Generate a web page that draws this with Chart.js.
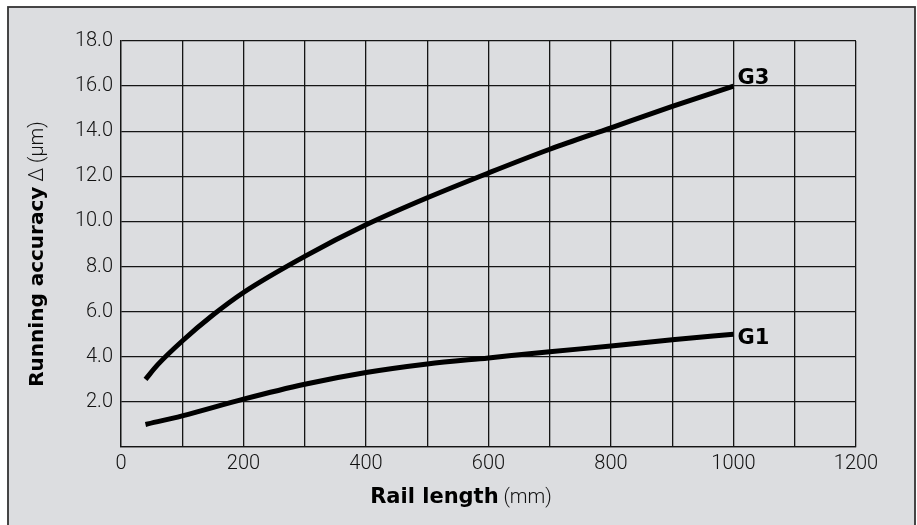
<!DOCTYPE html>
<html>
<head>
<meta charset="utf-8">
<script src="https://cdn.jsdelivr.net/npm/chart.js@4"></script>
<style>
  html, body { margin: 0; padding: 0; background: #ffffff; }
  #wrap { width: 917px; height: 525px; position: relative; }
</style>
</head>
<body>
<div id="wrap"><canvas id="c" width="917" height="525"></canvas></div>
<script>
// ---- data ----
const xTickValues = [0, 200, 400, 600, 800, 1000, 1200];
const yTickLabels = ['2.0', '4.0', '6.0', '8.0', '10.0', '12.0', '14.0', '16.0', '18.0'];

const g3Lengths = [40, 60, 100, 150, 200, 300, 400, 500, 600, 700, 800, 900, 1000];
const g3Values  = [3.0, 3.65, 4.7, 5.85, 6.85, 8.45, 9.85, 11.05, 12.15, 13.2, 14.15, 15.1, 16.0];

const g1Lengths = [40, 100, 200, 300, 400, 500, 600, 700, 800, 900, 1000];
const g1Values  = [1.0, 1.38, 2.12, 2.78, 3.3, 3.68, 3.95, 4.22, 4.48, 4.75, 5.0];

const seriesNames = ['G3', 'G1'];
const xTitleBold = 'Rail length';
const xTitleRest = ' (mm)';
const yTitleBold = 'Running accuracy';
const yTitleRest = ' \u0394 (\u03bcm)';

// ---- layout / style ----
const PLOT = { left: 121, right: 856, top: 41, bottom: 447 };
const W = 917, H = 525;
const FONT_BOLD = '"DejaVu Sans", "Liberation Sans", Arial, sans-serif';
const FONT_LIGHT = 'Roboto, "Liberation Sans", Arial, sans-serif';

const toPoints = (xs, ys) => xs.map((x, i) => ({ x: x, y: ys[i] }));

const framePlugin = {
  id: 'frame',
  beforeDraw(chart) {
    const ctx = chart.ctx;
    ctx.save();
    ctx.fillStyle = '#ffffff';
    ctx.fillRect(0, 0, W, H);
    ctx.fillStyle = '#dcdde0';
    ctx.fillRect(8, 7, 907, H);
    ctx.strokeStyle = '#333333';
    ctx.lineWidth = 1.8;
    ctx.strokeRect(8, 7, 907, H + 10);
    ctx.restore();
  }
};

const textPlugin = {
  id: 'texts',
  afterDraw(chart) {
    const ctx = chart.ctx;
    const xs = chart.scales.x, ys = chart.scales.y;
    ctx.save();
    ctx.fillStyle = '#000';
    ctx.textBaseline = 'alphabetic';
    ctx.textAlign = 'left';

    // series end labels
    const ends = [
      { name: seriesNames[0], x: g3Lengths[g3Lengths.length - 1], y: g3Values[g3Values.length - 1], dy: -2 },
      { name: seriesNames[1], x: g1Lengths[g1Lengths.length - 1], y: g1Values[g1Values.length - 1], dy: 10 }
    ];
    ctx.font = 'bold 21px ' + FONT_BOLD;
    ends.forEach(e => {
      ctx.fillText(e.name, xs.getPixelForValue(e.x) + 4, ys.getPixelForValue(e.y) + e.dy);
    });

    // x axis title
    ctx.font = 'bold 21px ' + FONT_BOLD;
    const wb = ctx.measureText(xTitleBold).width;
    ctx.font = '300 20px ' + FONT_LIGHT;
    const wr = ctx.measureText(xTitleRest).width;
    let x0 = 461 - (wb + wr) / 2;
    ctx.font = 'bold 21px ' + FONT_BOLD;
    ctx.fillText(xTitleBold, x0, 503);
    ctx.font = '300 20px ' + FONT_LIGHT;
    ctx.fillStyle = '#111';
    ctx.fillText(xTitleRest, x0 + wb, 503);

    // y axis title (rotated)
    ctx.fillStyle = '#000';
    ctx.translate(43, 254);
    ctx.rotate(-Math.PI / 2);
    ctx.font = 'bold 20px ' + FONT_BOLD;
    const yb = ctx.measureText(yTitleBold).width;
    ctx.font = '300 20px ' + FONT_LIGHT;
    const yr = ctx.measureText(yTitleRest).width;
    const y0 = -(yb + yr) / 2;
    ctx.font = 'bold 20px ' + FONT_BOLD;
    ctx.fillText(yTitleBold, y0, 0);
    ctx.font = '300 20px ' + FONT_LIGHT;
    ctx.fillStyle = '#111';
    ctx.fillText(yTitleRest, y0 + yb, 0);
    ctx.restore();
  }
};

const gridStyle = { color: '#151515', lineWidth: 1.3, drawTicks: false };
const borderStyle = { display: true, color: '#151515', width: 1.3 };
const tickFont = { family: FONT_LIGHT, size: 20, weight: '300' };

new Chart(document.getElementById('c'), {
  type: 'line',
  data: {
    datasets: [
      { label: seriesNames[0], data: toPoints(g3Lengths, g3Values) },
      { label: seriesNames[1], data: toPoints(g1Lengths, g1Values) }
    ]
  },
  options: {
    responsive: false,
    animation: false,
    devicePixelRatio: 1,
    layout: { padding: { left: 0, top: PLOT.top, right: W - PLOT.right, bottom: 0 } },
    elements: {
      line: { borderColor: '#000', borderWidth: 5, cubicInterpolationMode: 'monotone', borderCapStyle: 'butt', fill: false },
      point: { radius: 0, hoverRadius: 0 }
    },
    plugins: { legend: { display: false }, tooltip: { enabled: false }, title: { display: false } },
    scales: {
      x: {
        type: 'linear', min: 0, max: 1200,
        grid: gridStyle, border: borderStyle,
        ticks: {
          stepSize: 100, autoSkip: false, maxRotation: 0, padding: 5,
          color: '#111', font: tickFont,
          callback: v => xTickValues.includes(v) ? String(v) : ''
        },
        afterFit: s => { s.height = H - PLOT.bottom; }
      },
      y: {
        min: 0, max: 18,
        grid: gridStyle, border: borderStyle,
        ticks: {
          stepSize: 2, autoSkip: false, padding: 8,
          color: '#111', font: tickFont,
          callback: v => { const t = v.toFixed(1); return yTickLabels.includes(t) ? t : ''; }
        },
        afterFit: s => { s.width = PLOT.left; }
      }
    }
  },
  plugins: [framePlugin, textPlugin]
});
</script>
</body>
</html>
